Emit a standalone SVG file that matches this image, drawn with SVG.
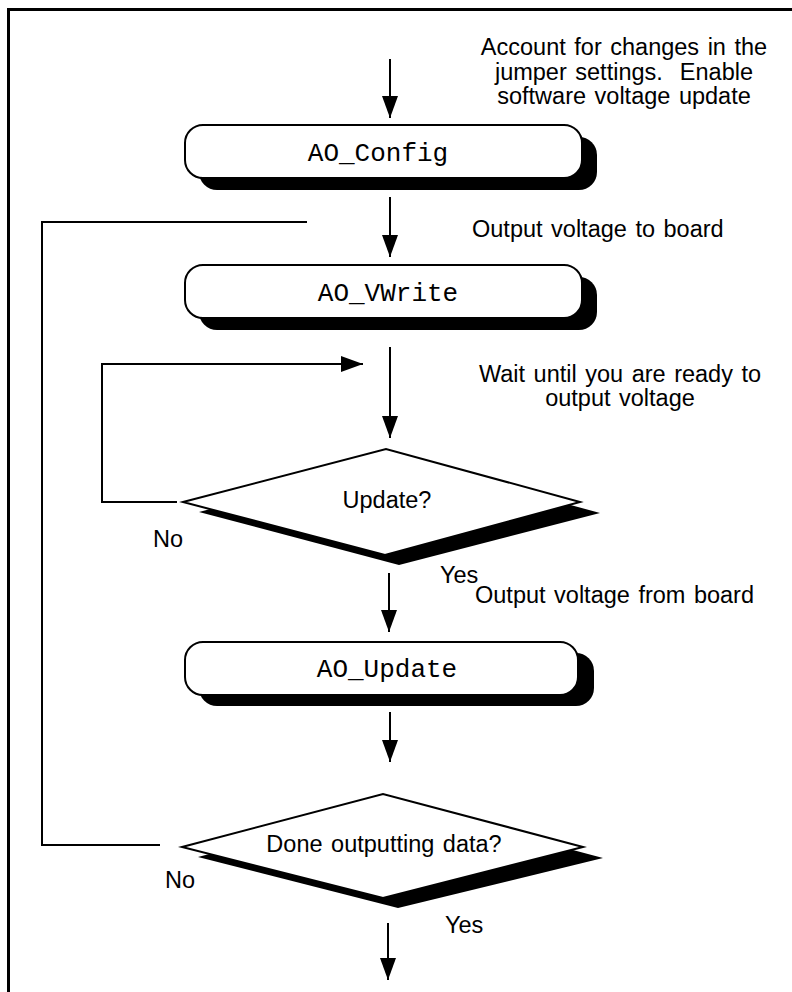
<svg xmlns="http://www.w3.org/2000/svg" width="792" height="992" viewBox="0 0 792 992">
  <style>
    .frame { fill: none; stroke: #000; stroke-width: 3; }
    .line { fill: none; stroke: #000; stroke-width: 2; }
    .shadow { fill: #000; stroke: none; }
    .box { fill: #fff; stroke: #000; stroke-width: 2; }
    .mono { font-family: "Liberation Mono", "Courier New", monospace; font-size: 26px; fill: #000; text-anchor: middle; }
    .sans { font-family: "Liberation Sans", Arial, sans-serif; font-size: 23.5px; word-spacing: 2px; fill: #000; }
    .mid { text-anchor: middle; }
    .pre { white-space: pre; }
  </style>
  <defs>
    <marker id="arrow" viewBox="0 0 22 16" refX="22" refY="8" markerWidth="22" markerHeight="16" markerUnits="userSpaceOnUse" orient="auto">
      <path d="M0,0 L22,8 L0,16 z" fill="#000"/>
    </marker>
  </defs>

  <rect width="792" height="992" fill="#fff"/>
  <!-- page frame, open to the right and bottom -->
  <path class="frame" d="M8.5,992 V9.5 H792"/>

  <!-- connectors -->
  <g id="connectors">
    <path class="line" d="M390,59 V118" marker-end="url(#arrow)"/>
    <path class="line" d="M390,197 V257" marker-end="url(#arrow)"/>
    <path class="line" d="M160,845 H42 V222 H307"/>
    <path class="line" d="M390,347 V438" marker-end="url(#arrow)"/>
    <path class="line" d="M177,502 H102 V364 H363" marker-end="url(#arrow)"/>
    <path class="line" d="M389,573 V632" marker-end="url(#arrow)"/>
    <path class="line" d="M390,712 V762" marker-end="url(#arrow)"/>
    <path class="line" d="M388,923 V980" marker-end="url(#arrow)"/>
  </g>

  <!-- process boxes -->
  <g id="ao-config">
    <rect class="shadow" x="199" y="137" width="398" height="53" rx="18"/>
    <rect class="box" x="185" y="125" width="397" height="53" rx="18"/>
    <text class="mono" x="378" y="161">AO_Config</text>
  </g>
  <g id="ao-vwrite">
    <rect class="shadow" x="199" y="277" width="398" height="53" rx="18"/>
    <rect class="box" x="185" y="265" width="397" height="53" rx="18"/>
    <text class="mono" x="388" y="301">AO_VWrite</text>
  </g>
  <g id="ao-update">
    <rect class="shadow" x="199" y="653" width="395" height="53" rx="18"/>
    <rect class="box" x="185" y="642" width="393" height="53" rx="18"/>
    <text class="mono" x="387" y="677">AO_Update</text>
  </g>

  <!-- decisions -->
  <g id="update-decision">
    <polygon class="shadow" points="199,512 402,459 600,513 399,565"/>
    <polygon class="box" points="183,502 386,449 580,502 385,555"/>
    <text class="sans mid" x="387" y="508">Update?</text>
    <text class="sans" x="153" y="547">No</text>
    <text class="sans" x="440" y="583">Yes</text>
  </g>
  <g id="done-decision">
    <polygon class="shadow" points="198,857 399,804 603,858 398,908"/>
    <polygon class="box" points="182,847 383,794 583,847 383,898"/>
    <text class="sans mid" x="384" y="852">Done outputting data?</text>
    <text class="sans" x="165" y="888">No</text>
    <text class="sans" x="445" y="933">Yes</text>
  </g>

  <!-- annotations -->
  <g id="notes">
    <text class="sans mid" x="624" y="55">Account for changes in the</text>
    <text class="sans mid pre" x="624" y="80">jumper settings.  Enable</text>
    <text class="sans mid" x="624" y="104">software voltage update</text>
    <text class="sans" x="472" y="237">Output voltage to board</text>
    <text class="sans mid" x="620" y="382">Wait until you are ready to</text>
    <text class="sans mid" x="620" y="406">output voltage</text>
    <text class="sans" x="475" y="603">Output voltage from board</text>
  </g>
</svg>
